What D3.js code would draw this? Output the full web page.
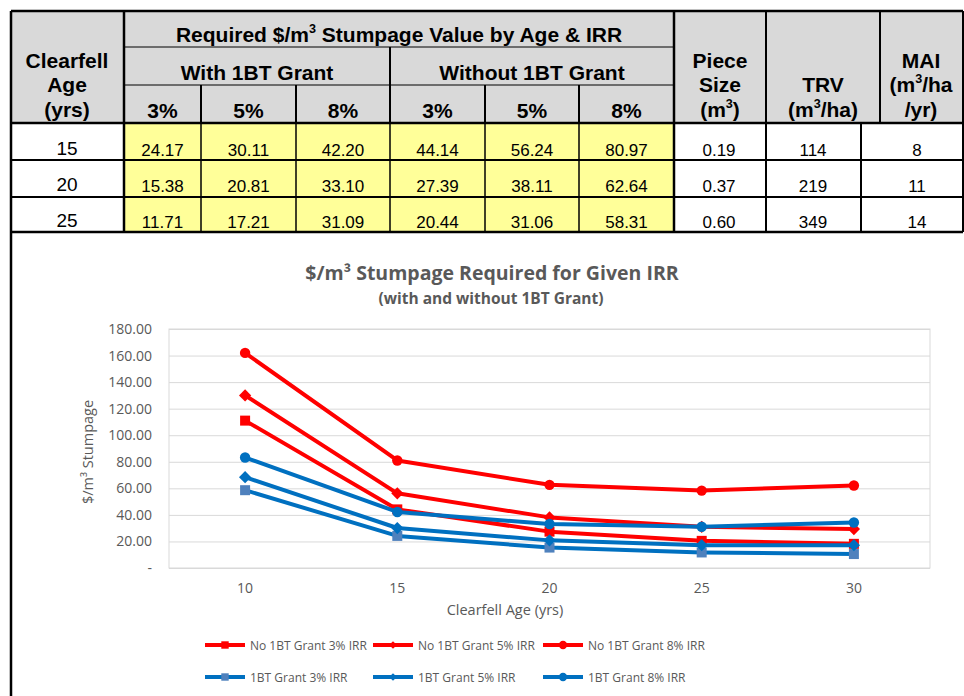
<!DOCTYPE html>
<meta charset="utf-8">
<script src="https://cdnjs.cloudflare.com/ajax/libs/d3/7.8.5/d3.min.js"></script>
<style>
  body { margin: 0; background: #fff; }
</style>
<body>
<div id="fig"></div>
<script>
// chart data (10 and 30, 15-25 from the table)
var ages = [10, 15, 20, 25, 30]
var noGrant3 = [111, 44.14, 27.39, 20.44, 18.2]
var noGrant5 = [130, 56.24, 38.11, 31.06, 29.3]
var noGrant8 = [162, 80.97, 62.64, 58.31, 62.1]
var grant3 = [58.6, 24.17, 15.38, 11.71, 10.5]
var grant5 = [68.4, 30.11, 20.81, 17.21, 17.2]
var grant8 = [83.2, 42.20, 33.10, 31.09, 34.3]
var seriesNames = ["No 1BT Grant 3% IRR", "No 1BT Grant 5% IRR", "No 1BT Grant 8% IRR",
                   "1BT Grant 3% IRR", "1BT Grant 5% IRR", "1BT Grant 8% IRR"]

// table data
var tableAges = [15, 20, 25]
var irrLabels = ["3%", "5%", "8%"]
var pieceSize = ["0.19", "0.37", "0.60"]
var trv = ["114", "219", "349"]
var mai = ["8", "11", "14"]

var W = 964, H = 696
var svg = d3.select("#fig").append("svg").attr("width", W).attr("height", H)

var RED = "#ff0000", BLUE = "#0070c0", SQBLUE = "#4f81bd", GREY = "#595959"
var CHARTFONT = "'Open Sans', sans-serif"

// ---------- table ----------
var tbl = svg.append("g").attr("font-family", "'Liberation Sans', Arial, sans-serif").attr("fill", "#000")
var cols = [11, 124, 201, 296, 390, 485, 579, 674, 766, 880, 963]

tbl.append("rect").attr("x", 11).attr("y", 11).attr("width", 952).attr("height", 112).attr("fill", "#d9d9d9")
tbl.append("rect").attr("x", 124).attr("y", 123).attr("width", 550).attr("height", 109).attr("fill", "#ffff99")

function line(x1, y1, x2, y2, w) {
  tbl.append("line").attr("x1", x1).attr("y1", y1).attr("x2", x2).attr("y2", y2)
    .attr("stroke", "#000").attr("stroke-width", w)
}

function rich(g, x, y, parts, size, weight) {
  var t = g.append("text").attr("x", x).attr("y", y).attr("text-anchor", "middle")
    .attr("font-size", size).attr("font-weight", weight || "normal")
  var up = false
  parts.forEach(function(p) {
    var sup = typeof p !== "string"
    var s = t.append("tspan").text(sup ? p[0] : p)
    if (sup) { s.attr("dy", -size * 0.42).attr("font-size", size * 0.6); up = true }
    else if (up) { s.attr("dy", size * 0.42); up = false }
  })
  return t
}

// header lines
line(124, 47, 674, 47, 1)
line(124, 85, 674, 85, 1)
line(390, 47, 390, 123, 2)
;[201, 296, 485, 579].forEach(function(x) { line(x, 85, x, 123, 2) })
line(124, 11, 124, 232, 2.5)
line(674, 11, 674, 232, 2.5)
line(766, 11, 766, 232, 2)
line(880, 11, 880, 123, 2)
line(861, 123, 861, 232, 2)
;[201, 296, 390, 485, 579].forEach(function(x) { line(x, 123, x, 232, 1.5) })
line(11, 123, 963, 123, 2.5)
line(11, 160, 963, 160, 2)
line(11, 197, 963, 197, 2)
line(11, 11, 963, 11, 2.5)
line(11, 232, 963, 232, 2.5)
line(963, 11, 963, 232, 2)
line(11, 11, 11, H, 2.5)

var HF = 21
rich(tbl, 399, 42, ["Required $/m", ["3"], " Stumpage Value by Age & IRR"], HF, "bold")
rich(tbl, 257, 80, ["With 1BT Grant"], HF, "bold")
rich(tbl, 532, 80, ["Without 1BT Grant"], HF, "bold")
for (var i = 0; i < 6; i++) {
  rich(tbl, (cols[i + 1] + cols[i + 2]) / 2, 118, [irrLabels[i % 3]], HF, "bold")
}
rich(tbl, 67, 68, ["Clearfell"], HF, "bold")
rich(tbl, 67, 92, ["Age"], HF, "bold")
rich(tbl, 67, 117, ["(yrs)"], HF, "bold")
rich(tbl, 720, 68, ["Piece"], HF, "bold")
rich(tbl, 720, 92, ["Size"], HF, "bold")
rich(tbl, 720, 117, ["(m", ["3"], ")"], HF, "bold")
rich(tbl, 823, 92, ["TRV"], HF, "bold")
rich(tbl, 823, 117, ["(m", ["3"], "/ha)"], HF, "bold")
rich(tbl, 921, 68, ["MAI"], HF, "bold")
rich(tbl, 921, 92, ["(m", ["3"], "/ha"], HF, "bold")
rich(tbl, 921, 117, ["/yr)"], HF, "bold")

var bodyBase = [156, 192, 228]
var tableSeries = [grant3, grant5, grant8, noGrant3, noGrant5, noGrant8]
tableAges.forEach(function(a, r) {
  var k = ages.indexOf(a)
  rich(tbl, 67, bodyBase[r] - 1, [String(a)], 19)
  tableSeries.forEach(function(s, j) {
    rich(tbl, (cols[j + 1] + cols[j + 2]) / 2, bodyBase[r], [s[k].toFixed(2)], 17)
  })
  rich(tbl, 719, bodyBase[r], [pieceSize[r]], 17)
  rich(tbl, 813, bodyBase[r], [trv[r]], 17)
  rich(tbl, 917, bodyBase[r], [mai[r]], 17)
})

// ---------- chart ----------
var ch = svg.append("g").attr("font-family", CHARTFONT).attr("fill", GREY)
var x = d3.scaleBand().domain(ages).range([169, 930])
var y = d3.scaleLinear().domain([0, 180]).range([568, 329])
var cx = function(a) { return x(a) + x.bandwidth() / 2 }

ch.append("text").attr("x", 492).attr("y", 280).attr("text-anchor", "middle")
  .attr("font-size", 19.5).attr("font-weight", "bold").text("$/m³ Stumpage Required for Given IRR")
ch.append("text").attr("x", 491).attr("y", 304).attr("text-anchor", "middle")
  .attr("font-size", 15.5).attr("font-weight", "bold").text("(with and without 1BT Grant)")

var yAxis = ch.append("g").attr("transform", "translate(169,0)")
  .call(d3.axisLeft(y).ticks(9).tickSize(-761).tickPadding(17)
    .tickFormat(function(d) { return d === 0 ? "-" : d3.format(".2f")(d) }))
yAxis.select(".domain").remove()
yAxis.selectAll("line").attr("stroke", "#d9d9d9")
yAxis.selectAll("text").attr("fill", GREY).attr("font-size", 14).attr("font-family", CHARTFONT)
ch.append("rect").attr("x", 169).attr("y", 329).attr("width", 761).attr("height", 239)
  .attr("fill", "none").attr("stroke", "#d9d9d9")

var xAxis = ch.append("g").attr("transform", "translate(0,568)")
  .call(d3.axisBottom(x).tickSize(0).tickPadding(15))
xAxis.select(".domain").remove()
xAxis.selectAll("text").attr("fill", GREY).attr("font-size", 14).attr("font-family", CHARTFONT)

ch.append("text").attr("x", 505).attr("y", 615).attr("text-anchor", "middle")
  .attr("font-size", 14.5).text("Clearfell Age (yrs)")
ch.append("text").attr("transform", "translate(93,452) rotate(-90)").attr("text-anchor", "middle")
  .attr("font-size", 14.5).text("$/m³ Stumpage")

var series = [
  { name: seriesNames[0], values: noGrant3, color: RED, mark: "square", mcolor: RED },
  { name: seriesNames[1], values: noGrant5, color: RED, mark: "diamond", mcolor: RED },
  { name: seriesNames[2], values: noGrant8, color: RED, mark: "circle", mcolor: RED },
  { name: seriesNames[3], values: grant3, color: BLUE, mark: "square", mcolor: SQBLUE },
  { name: seriesNames[4], values: grant5, color: BLUE, mark: "diamond", mcolor: BLUE },
  { name: seriesNames[5], values: grant8, color: BLUE, mark: "circle", mcolor: BLUE }
]

// square turned 45 degrees, as Excel draws its diamond marker
var squareDiamond = {
  draw: function(ctx, size) {
    var r = Math.sqrt(size / 2)
    ctx.moveTo(0, -r); ctx.lineTo(r, 0); ctx.lineTo(0, r); ctx.lineTo(-r, 0); ctx.closePath()
  }
}
var symbols = { square: d3.symbolSquare, diamond: squareDiamond, circle: d3.symbolCircle }
var sizes = { square: 100, diamond: 75, circle: 85 }
var lineGen = d3.line().x(function(d) { return cx(d[0]) }).y(function(d) { return y(d[1]) })

series.forEach(function(s) {
  var pts = ages.map(function(a, i) { return [a, s.values[i]] })
  ch.append("path").attr("d", lineGen(pts)).attr("fill", "none")
    .attr("stroke", s.color).attr("stroke-width", 4).attr("stroke-linejoin", "round")
  ch.selectAll(null).data(pts).enter().append("path")
    .attr("d", d3.symbol().type(symbols[s.mark]).size(sizes[s.mark]))
    .attr("transform", function(d) { return "translate(" + cx(d[0]) + "," + y(d[1]) + ")" })
    .attr("fill", s.mcolor)
})

// legend
var legX = [205, 373, 543], legY = [645, 677]
series.forEach(function(s, i) {
  var lx = legX[i % 3], ly = legY[Math.floor(i / 3)]
  var g = ch.append("g").attr("transform", "translate(" + lx + "," + ly + ")")
  g.append("line").attr("x1", 0).attr("x2", 40).attr("stroke", s.color).attr("stroke-width", 4)
  g.append("path").attr("d", d3.symbol().type(symbols[s.mark]).size(s.mark === "diamond" ? 30 : 55)())
    .attr("transform", "translate(20,0)").attr("fill", s.mcolor)
  g.append("text").attr("x", 45).attr("y", 4.5).attr("font-size", 12).text(s.name)
})
</script>
</body>
